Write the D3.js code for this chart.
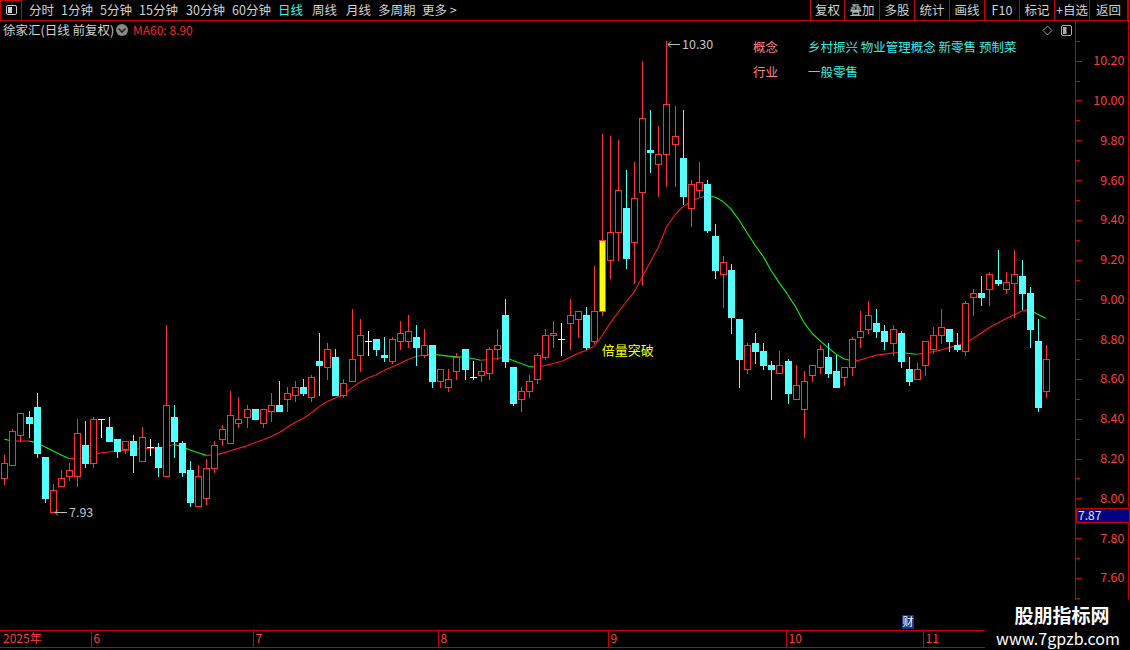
<!DOCTYPE html>
<html><head><meta charset="utf-8">
<script src="https://cdn.jsdelivr.net/npm/d3@7"></script>
<style>
html,body{margin:0;padding:0;background:#000;overflow:hidden}
svg{display:block}
text{font-family:"Noto Sans CJK SC","Liberation Sans",sans-serif}
</style></head><body>
<svg id="c" width="1130" height="650"></svg>
<script>
// ---------------- data ----------------
const dates = [
"0516","0519","0520","0521","0522","0523","0526","0527","0528","0529","0530",
"0603","0604","0605","0606","0609","0610","0611","0612","0613","0616","0617","0618","0619","0620","0623","0624","0625","0626","0627","0630",
"0701","0702","0703","0704","0707","0708","0709","0710","0711","0714","0715","0716","0717","0718","0721","0722","0723","0724","0725","0728","0729","0730","0731",
"0801","0804","0805","0806","0807","0808","0811","0812","0813","0814","0815","0818","0819","0820","0821","0822","0825","0826","0827","0828","0829",
"0901","0902","0903","0904","0905","0908","0909","0910","0911","0912","0915","0916","0917","0918","0919","0922","0923","0924","0925","0926","0929","0930",
"1009","1010","1013","1014","1015","1016","1017","1020","1021","1022","1023","1024","1027","1028","1029","1030","1031",
"1103","1104","1105","1106","1107","1110","1111","1112","1113","1114","1117","1118","1119","1120","1121","1124"];

const open = [
8.10,8.17,8.32,8.41,8.46,8.21,7.93,8.06,8.11,8.11,
8.27,8.18,8.40,8.36,8.30,8.25,8.29,8.19,8.26,8.26,
8.11,8.41,8.28,8.14,7.96,8.00,8.15,8.30,8.28,8.38,
8.41,8.45,8.38,8.44,8.47,8.50,8.52,8.56,8.51,8.69,
8.66,8.71,8.52,8.59,8.72,8.79,8.80,8.72,8.69,8.79,
8.79,8.81,8.72,8.77,8.59,8.56,8.64,8.75,8.61,8.62,
8.63,8.75,8.92,8.66,8.50,8.54,8.60,8.71,8.82,8.80,
8.88,8.90,8.92,8.79,8.94,9.20,9.34,9.46,9.29,9.54,
9.75,9.68,9.73,9.78,9.71,9.46,9.55,9.58,9.32,9.13,
9.15,8.90,8.65,8.78,8.74,8.67,8.63,8.69,8.50,8.45,
8.62,8.66,8.71,8.64,8.61,8.66,8.81,8.85,8.88,8.84,
8.78,8.83,8.65,8.60,8.67,8.75,8.82,8.85,8.77,8.74,
9.01,9.03,9.05,9.10,9.05,9.08,9.12,9.03,8.79,8.54];

const high = [
8.22,8.35,8.43,8.44,8.53,8.21,8.07,8.14,8.18,8.40,
8.39,8.41,8.40,8.41,8.30,8.29,8.32,8.36,8.30,8.28,
8.87,8.47,8.29,8.19,8.17,8.20,8.29,8.37,8.54,8.51,
8.47,8.45,8.45,8.53,8.59,8.56,8.59,8.60,8.62,8.83,
8.78,8.75,8.60,8.95,8.90,8.84,8.80,8.81,8.81,8.89,
8.92,8.87,8.85,8.77,8.65,8.65,8.73,8.75,8.69,8.68,
8.76,8.85,9.00,8.66,8.56,8.62,8.73,8.85,8.89,8.88,
9.00,8.94,8.96,9.17,9.83,9.82,9.80,9.65,9.69,10.20,
9.95,9.87,10.30,9.97,9.95,9.60,9.69,9.60,9.38,9.22,
9.18,8.90,8.78,8.83,8.78,8.69,8.74,8.70,8.67,8.64,
8.67,8.77,8.78,8.72,8.66,8.81,8.94,8.99,8.95,8.87,
8.87,8.84,8.71,8.68,8.79,8.86,8.95,8.85,8.83,8.99,
9.05,9.12,9.14,9.25,9.14,9.25,9.20,9.06,8.90,8.77];

const low = [
8.07,8.17,8.29,8.31,8.21,7.98,7.93,8.06,8.09,8.06,
8.16,8.16,8.31,8.29,8.21,8.23,8.13,8.19,8.22,8.11,
8.11,8.21,8.11,7.96,7.96,7.97,8.13,8.27,8.28,8.36,
8.36,8.40,8.36,8.39,8.44,8.44,8.49,8.52,8.49,8.52,
8.60,8.52,8.51,8.59,8.64,8.72,8.72,8.69,8.68,8.75,
8.76,8.67,8.71,8.56,8.56,8.54,8.60,8.60,8.60,8.59,
8.60,8.70,8.66,8.47,8.44,8.51,8.58,8.70,8.76,8.72,
8.75,8.81,8.75,8.78,8.92,9.11,9.20,9.16,9.08,9.07,
9.64,9.52,9.57,9.57,9.48,9.37,9.52,9.34,9.11,8.96,
8.83,8.56,8.63,8.68,8.65,8.50,8.63,8.48,8.50,8.31,
8.59,8.63,8.61,8.56,8.57,8.62,8.76,8.83,8.81,8.75,
8.72,8.66,8.57,8.60,8.62,8.73,8.78,8.74,8.74,8.72,
8.92,8.97,8.97,9.07,9.03,8.91,8.95,8.76,8.44,8.51];

const close = [
8.18,8.34,8.43,8.38,8.23,8.00,8.04,8.10,8.14,8.33,
8.18,8.40,8.40,8.29,8.24,8.29,8.22,8.31,8.26,8.16,
8.47,8.29,8.13,7.98,8.11,8.15,8.27,8.35,8.42,8.40,
8.45,8.40,8.45,8.47,8.44,8.53,8.56,8.53,8.61,8.67,
8.75,8.52,8.58,8.70,8.82,8.79,8.75,8.71,8.80,8.83,
8.84,8.76,8.77,8.59,8.65,8.60,8.71,8.65,8.61,8.64,
8.75,8.77,8.69,8.48,8.54,8.59,8.72,8.82,8.83,8.80,
8.92,8.94,8.76,8.94,9.30,9.34,9.55,9.21,9.51,9.91,
9.74,9.73,9.98,9.82,9.52,9.58,9.59,9.35,9.15,9.19,
8.91,8.70,8.77,8.74,8.67,8.65,8.67,8.53,8.57,8.59,
8.67,8.75,8.63,8.56,8.66,8.80,8.84,8.92,8.84,8.79,
8.85,8.69,8.59,8.65,8.79,8.82,8.86,8.79,8.75,8.98,
9.03,9.01,9.13,9.08,9.09,9.13,9.03,8.85,8.46,8.70];

const ma60 = [
8.297,8.288,8.288,8.288,8.280,8.259,8.239,8.219,8.200,8.201,
8.203,8.219,8.229,8.233,8.239,8.241,8.246,8.249,8.251,8.253,
8.259,8.271,8.259,8.243,8.229,8.216,8.218,8.226,8.239,8.251,
8.263,8.279,8.293,8.310,8.330,8.356,8.381,8.401,8.429,8.461,
8.487,8.504,8.519,8.554,8.582,8.605,8.620,8.642,8.660,8.678,
8.698,8.713,8.723,8.724,8.720,8.715,8.712,8.709,8.703,8.694,
8.698,8.703,8.709,8.693,8.678,8.663,8.659,8.668,8.678,8.688,
8.708,8.728,8.743,8.763,8.816,8.879,8.934,8.987,9.037,9.113,
9.188,9.263,9.364,9.422,9.464,9.492,9.510,9.520,9.515,9.492,
9.454,9.399,9.334,9.271,9.215,9.143,9.082,9.025,8.962,8.886,
8.831,8.793,8.758,8.725,8.700,8.692,8.695,8.708,8.720,8.725,
8.730,8.734,8.728,8.724,8.730,8.737,8.746,8.758,8.767,8.783,
8.804,8.831,8.859,8.881,8.901,8.922,8.942,8.950,8.924,8.905];

const yTickLabels = ["7.60","7.80","8.00","8.20","8.40","8.60","8.80","9.00","9.20","9.40","9.60","9.80","10.00","10.20"];
const yearLabel = "2025年";
const breakoutIndex = 74;
const breakoutText = "倍量突破";
const stockTitle = "徐家汇(日线 前复权)";
const leftMenu = ["分时","1分钟","5分钟","15分钟","30分钟","60分钟","日线","周线","月线","多周期","更多 >"];
const rightMenu = ["复权","叠加","多股","统计","画线","F10","标记","+自选","返回"];
const infoKeys = ["概念","行业"];
const infoVals = ["乡村振兴 物业管理概念 新零售 预制菜","一般零售"];
const cursorPrice = "7.87";

// ---------------- drawing ----------------
const svg = d3.select("#c");
const RED = "#ff3232", CYAN = "#54ffff", FRAME = "#c80000", AXISTXT = "#ff3c3c";
svg.append("rect").attr("width",1130).attr("height",650).attr("fill","#000");

const n = close.length;
const x = d3.scaleBand().domain(d3.range(n)).range([0.25, 1050]).paddingInner(0);
const cxOf = i => Math.round(x(i) + x.bandwidth()/2);
const y = d3.scaleLinear().domain([7.60, 10.20]).range([577.9, 60.7]);

// toolbar
const tb = svg.append("g");
tb.append("rect").attr("x",0.5).attr("y",0.5).attr("width",21).attr("height",20).attr("fill","none").attr("stroke",FRAME);
tb.append("rect").attr("x",6.5).attr("y",5.5).attr("width",10).attr("height",9).attr("rx",1.5).attr("fill","none").attr("stroke","#cfcfcf");
tb.append("rect").attr("x",8).attr("y",7).attr("width",4).attr("height",6).attr("fill","#cfcfcf");
const menuX = [29,61,100,139,186,232,278,312,346,378,422];
tb.selectAll("text.lm").data(leftMenu).join("text").attr("class","lm")
  .attr("x",(d,i)=>menuX[i]).attr("y",15).attr("font-size",12.5)
  .attr("fill",d=>d==="日线"?"#40f0f0":"#d2d2d2").text(d=>d);
const sepX = [810.5,844.5,879.5,914.5,949.5,984.5,1019.5,1054.5,1089.5,1127.5];
tb.selectAll("line.sep").data(sepX).join("line").attr("class","sep")
  .attr("x1",d=>d).attr("x2",d=>d).attr("y1",0).attr("y2",20).attr("stroke",FRAME);
tb.selectAll("text.rm").data(rightMenu).join("text").attr("class","rm")
  .attr("x",(d,i)=>(sepX[i]+sepX[i+1])/2).attr("y",15).attr("text-anchor","middle")
  .attr("font-size",12.5).attr("fill","#d2d2d2").text(d=>d);
tb.append("line").attr("x1",0).attr("x2",1130).attr("y1",20.5).attr("y2",20.5).attr("stroke",FRAME);

// title row
svg.append("text").attr("x",3).attr("y",35).attr("font-size",12.5).attr("fill","#d2d2d2").text(stockTitle);
svg.append("circle").attr("cx",122).attr("cy",30).attr("r",6).attr("fill","#8a8a8a");
svg.append("path").attr("d","M118.5,28.5 L122,32 L125.5,28.5").attr("fill","none").attr("stroke","#222").attr("stroke-width",1.6);
svg.append("text").attr("x",133).attr("y",35).attr("font-size",12).attr("fill","#ff2020")
  .attr("font-family","Liberation Sans, Arial, sans-serif")
  .text("MA60: " + ma60[n-1].toFixed(2));
svg.append("path").attr("d","M1047.5,26 L1052,30.5 L1047.5,35 L1043,30.5 Z").attr("fill","none").attr("stroke","#9a9a9a");
svg.append("rect").attr("x",1061.5).attr("y",25.5).attr("width",10).attr("height",10).attr("rx",1.5).attr("fill","none").attr("stroke","#aaa");
svg.append("rect").attr("x",1063).attr("y",27).attr("width",3.5).attr("height",7).attr("fill","#aaa");

// info block
infoKeys.forEach((k,i)=>{
  svg.append("text").attr("x",753).attr("y",52+i*24.5).attr("font-size",12.5).attr("fill","#ff8080").text(k);
  svg.append("text").attr("x",808).attr("y",52+i*24.5).attr("font-size",12.5).attr("fill","#3ee8e8").text(infoVals[i]);
});

// right axis
const ax = svg.append("g");
ax.append("line").attr("x1",1075.5).attr("x2",1075.5).attr("y1",20).attr("y2",631).attr("stroke",FRAME);
ax.append("line").attr("x1",1128.5).attr("x2",1128.5).attr("y1",0).attr("y2",631).attr("stroke",FRAME);
const minor = d3.range(75,104).map(v=>v/10);
ax.selectAll("line.mt").data(minor).join("line").attr("class","mt")
  .attr("x1",1076).attr("x2",d=>Math.abs(d*10%2-1)<0.01?1080:1082)
  .attr("y1",d=>Math.round(y(d))+0.5).attr("y2",d=>Math.round(y(d))+0.5).attr("stroke",FRAME);
ax.selectAll("text.yl").data(yTickLabels).join("text").attr("class","yl")
  .attr("x",1124.5).attr("y",d=>y(+d)).attr("dy","0.36em").attr("text-anchor","end")
  .attr("font-size",12.5).attr("font-family","Liberation Sans, Arial, sans-serif")
  .attr("fill",AXISTXT).text(d=>d);
// cursor price box
ax.append("rect").attr("x",1076.5).attr("y",508.5).attr("width",53).attr("height",14).attr("fill","#000080").attr("stroke",FRAME);
ax.append("text").attr("x",1078).attr("y",520).attr("font-size",12).attr("font-family","Liberation Sans, Arial, sans-serif")
  .attr("fill","#e6e6e6").text(cursorPrice);

// MA60 line, coloured by direction
const maG = svg.append("g");
for(let i=1;i<n;i++){
  maG.append("line")
    .attr("x1",x(i-1)+x.bandwidth()/2).attr("y1",y(ma60[i-1]))
    .attr("x2",x(i)+x.bandwidth()/2).attr("y2",y(ma60[i]))
    .attr("stroke", ma60[i]>=ma60[i-1] ? "#ff1a1a" : "#10f010").attr("stroke-width",1.1);
}

// candles
const cg = svg.append("g").attr("shape-rendering","crispEdges");
for(let i=0;i<n;i++){
  const o=open[i], c=close[i], h=high[i], l=low[i];
  const cx = cxOf(i);
  const yt = Math.round(y(Math.max(o,c))), yb = Math.round(y(Math.min(o,c)));
  const yh = Math.round(y(h)), yl = Math.round(y(l));
  if(c===o){
    cg.append("line").attr("x1",cx+0.5).attr("x2",cx+0.5).attr("y1",yh).attr("y2",yl+1).attr("stroke","#fff");
    cg.append("line").attr("x1",cx-3).attr("x2",cx+4).attr("y1",yt+0.5).attr("y2",yt+0.5).attr("stroke","#fff");
  } else if(c>o){
    cg.append("line").attr("x1",cx+0.5).attr("x2",cx+0.5).attr("y1",yh).attr("y2",yt).attr("stroke",RED);
    cg.append("line").attr("x1",cx+0.5).attr("x2",cx+0.5).attr("y1",yb).attr("y2",yl+1).attr("stroke",RED);
    if(i===breakoutIndex){
      cg.append("rect").attr("x",cx-3).attr("y",yt).attr("width",7).attr("height",Math.max(1,yb-yt+1)).attr("fill",RED);
      cg.append("rect").attr("x",cx-2).attr("y",yt+1).attr("width",5).attr("height",Math.max(1,yb-yt-1)).attr("fill","#ffff00");
    } else {
      cg.append("rect").attr("x",cx-2.5).attr("y",yt+0.5).attr("width",6).attr("height",Math.max(1,yb-yt))
        .attr("fill","#000").attr("stroke",RED);
    }
  } else {
    cg.append("line").attr("x1",cx+0.5).attr("x2",cx+0.5).attr("y1",yh).attr("y2",yl+1).attr("stroke",CYAN);
    cg.append("rect").attr("x",cx-3).attr("y",yt).attr("width",7).attr("height",Math.max(1,yb-yt+1)).attr("fill",CYAN);
  }
}

// max / min annotations
const iMax = d3.maxIndex(high), iMin = d3.minIndex(low);
function note(i, v){
  const cx = cxOf(i)+2, yy = Math.round(y(v)) + (i===iMax?3:0) + 0.5;
  const g = svg.append("g").attr("stroke","#bdbdbd").attr("fill","none");
  g.append("line").attr("x1",cx).attr("x2",cx+12).attr("y1",yy).attr("y2",yy);
  g.append("path").attr("d",`M${cx+3},${yy-3} L${cx},${yy} L${cx+3},${yy+3}`);
  svg.append("text").attr("x",cx+14).attr("y",yy).attr("dy","0.36em").attr("font-size",12.5)
    .attr("font-family","Liberation Sans, Arial, sans-serif").attr("fill","#c4c4c4").text(v.toFixed(2));
}
note(iMax, high[iMax]);
note(iMin, low[iMin]);

// breakout label
svg.append("text").attr("x",x(breakoutIndex)+4).attr("y",355).attr("font-size",13)
  .attr("fill","#ffff00").text(breakoutText);

// date axis
const dg = svg.append("g");
dg.append("line").attr("x1",0).attr("x2",985).attr("y1",630.5).attr("y2",630.5).attr("stroke",FRAME);
dg.append("line").attr("x1",0).attr("x2",985).attr("y1",647.5).attr("y2",647.5).attr("stroke",FRAME);
dg.append("text").attr("x",3).attr("y",643).attr("font-size",12).attr("fill",AXISTXT).text(yearLabel);
const monthStarts = d3.range(1,n).filter(i=>dates[i].slice(0,2)!==dates[i-1].slice(0,2));
monthStarts.forEach(i=>{
  const mx = cxOf(i)-1.5;
  dg.append("line").attr("x1",mx).attr("x2",mx).attr("y1",631).attr("y2",647).attr("stroke",FRAME);
  dg.append("text").attr("x",mx+2).attr("y",643).attr("font-size",12)
    .attr("font-family","Liberation Sans, Arial, sans-serif").attr("fill",AXISTXT)
    .text(String(+dates[i].slice(0,2)));
});
// financial marker
svg.append("rect").attr("x",902).attr("y",615).attr("width",12).attr("height",14).attr("fill","#12348a");
svg.append("text").attr("x",908).attr("y",626).attr("text-anchor","middle").attr("font-size",11).attr("fill","#fff").text("财");

// watermark
svg.append("rect").attr("x",986).attr("y",600).attr("width",144).attr("height",50).attr("fill","#000");
svg.append("text").attr("x",1062).attr("y",623).attr("text-anchor","middle").attr("font-size",19)
  .attr("font-weight","bold").attr("fill","#fff").text("股朋指标网");
svg.append("text").attr("x",1058).attr("y",645).attr("text-anchor","middle").attr("font-size",16)
  .attr("font-family","Liberation Sans, Arial, sans-serif").attr("fill","#fff").text("www.7gpzb.com");
</script>
</body></html>
